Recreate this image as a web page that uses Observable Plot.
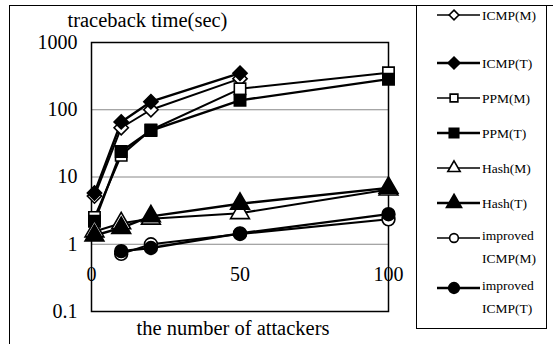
<!DOCTYPE html>
<html><head><meta charset="utf-8">
<script src="https://cdn.jsdelivr.net/npm/d3@7"></script>
<script src="https://cdn.jsdelivr.net/npm/@observablehq/plot@0.6"></script>
<style>body{margin:0;background:#fff} #chart{width:553px;height:344px}</style>
</head><body><div id="chart"></div>
<script>
// Data
const attackers = [1, 10, 20, 50, 100];
const attackersICMP = [1, 10, 20, 50];
const attackersImproved = [10, 20, 50, 100];
const icmpM = [5.2, 54, 100, 290];
const icmpT = [5.8, 66, 132, 350];
const ppmM = [2.5, 21, 50, 205, 355];
const ppmT = [2.2, 24, 49, 138, 285];
const hashM = [1.55, 2.05, 2.4, 2.9, 6.5];
const hashT = [1.35, 1.75, 2.6, 4.0, 6.9];
const impM = [0.72, 1.0, 1.42, 2.35];
const impT = [0.79, 0.88, 1.45, 2.8];
const seriesNames = ["ICMP(M)", "ICMP(T)", "PPM(M)", "PPM(T)", "Hash(M)", "Hash(T)", "improved ICMP(M)", "improved ICMP(T)"];
const yTicks = [0.1, 1, 10, 100, 1000];
const xTicks = [0, 50, 100];
const gridValues = [1, 10, 100];
const yTitle = "traceback time(sec)";
const xTitle = "the number of attackers";

const symbols = ["diamond2", "diamond2", "square", "square", "triangle", "triangle", "circle", "circle"];
const d3symbols = [d3.symbolDiamond2, d3.symbolDiamond2, d3.symbolSquare, d3.symbolSquare, d3.symbolTriangle, d3.symbolTriangle, d3.symbolCircle, d3.symbolCircle];
const xsList = [attackersICMP, attackersICMP, attackers, attackers, attackers, attackers, attackersImproved, attackersImproved];
const ysList = [icmpM, icmpT, ppmM, ppmT, hashM, hashT, impM, impT];

const series = seriesNames.map((name, k) => ({
  name,
  filled: name.endsWith("(T)"),
  symbol: symbols[k],
  d3symbol: d3symbols[k],
  points: ysList[k].map((v, i) => ({x: xsList[k][i], y: v}))
}));

const font = "'Liberation Serif', 'Times New Roman', serif";

const lineMarks = series.map(s => Plot.line(s.points, {x: "x", y: "y", stroke: "black", strokeWidth: s.filled ? 2.4 : 2}));
const dotMarks = series.map(s => Plot.dot(s.points, {
  x: "x", y: "y", symbol: s.symbol,
  r: s.symbol === "triangle" ? 7 : 6.4,
  fill: s.filled ? "black" : "white", stroke: "black", strokeWidth: 1.6
}));

const svg = Plot.plot({
  width: 553, height: 344,
  marginLeft: 91, marginRight: 165, marginTop: 42, marginBottom: 33,
  x: {domain: [0, 100], axis: null},
  y: {type: "log", domain: [0.1, 1000]},
  style: {fontFamily: font, background: "white", color: "black"},
  marks: [
    Plot.ruleY(gridValues, {stroke: "#888", strokeWidth: 1}),
    Plot.frame({stroke: "black", strokeWidth: 1.5}),
    Plot.axisY({ticks: yTicks, tickSize: 0, tickPadding: 14, tickFormat: d => String(d), fontSize: 20, label: null}),
    Plot.text(xTicks, {x: d => d, frameAnchor: "bottom", lineAnchor: "middle", dy: -37, fontSize: 20, fill: "black"}),
    Plot.text([yTitle], {frameAnchor: "top-left", lineAnchor: "middle", dx: -24, dy: -22, textAnchor: "start", fontSize: 20.5, fill: "black"}),
    Plot.text([xTitle], {frameAnchor: "bottom", lineAnchor: "middle", dx: -7, dy: 17, fontSize: 20.5, fill: "black"}),
    ...lineMarks,
    ...dotMarks
  ]
});

// Outer border and legend
const g = d3.select(svg);
g.append("rect").attr("x", 9.5).attr("y", 5.5).attr("width", 700).attr("height", 500)
  .attr("fill", "none").attr("stroke", "black").attr("stroke-width", 1);
g.append("rect").attr("x", 416.5).attr("y", 5.5).attr("width", 130).attr("height", 323)
  .attr("fill", "white").attr("stroke", "black").attr("stroke-width", 1);

const legendX0 = 437, legendX1 = 480, legendMarkX = 454, legendTextX = 482;
let yRow = 15;
series.forEach((s, k) => {
  const row = g.append("g").attr("text-anchor", "start");
  row.append("line").attr("x1", legendX0).attr("x2", legendX1).attr("y1", yRow).attr("y2", yRow)
    .attr("stroke", "black").attr("stroke-width", s.filled ? 2.4 : 1.6);
  const size = s.filled ? 90 : 60;
  row.append("path").attr("d", d3.symbol(s.d3symbol, s.symbol === "triangle" ? size * 1.1 : size)())
    .attr("transform", `translate(${legendMarkX},${yRow})`)
    .attr("fill", s.filled ? "black" : "white").attr("stroke", "black").attr("stroke-width", 1.6);
  const parts = s.name.startsWith("improved ") ? ["improved", s.name.slice(9)] : [s.name];
  const t = row.append("text").attr("x", legendTextX).attr("font-family", font).attr("font-size", 13.5).attr("fill", "black");
  if (parts.length === 1) {
    t.attr("y", yRow).attr("dy", "0.35em").text(parts[0]);
  } else {
    t.attr("y", yRow - 3).attr("dy", "0.35em").text(parts[0]);
    row.append("text").attr("x", legendTextX).attr("y", yRow + 20).attr("dy", "0.35em")
      .attr("font-family", font).attr("font-size", 13.5).attr("fill", "black").text(parts[1]);
  }
  yRow += k === 0 ? 48 : (parts.length > 1 ? 50 : 35);
});

document.getElementById("chart").appendChild(svg);
</script>
</body></html>
